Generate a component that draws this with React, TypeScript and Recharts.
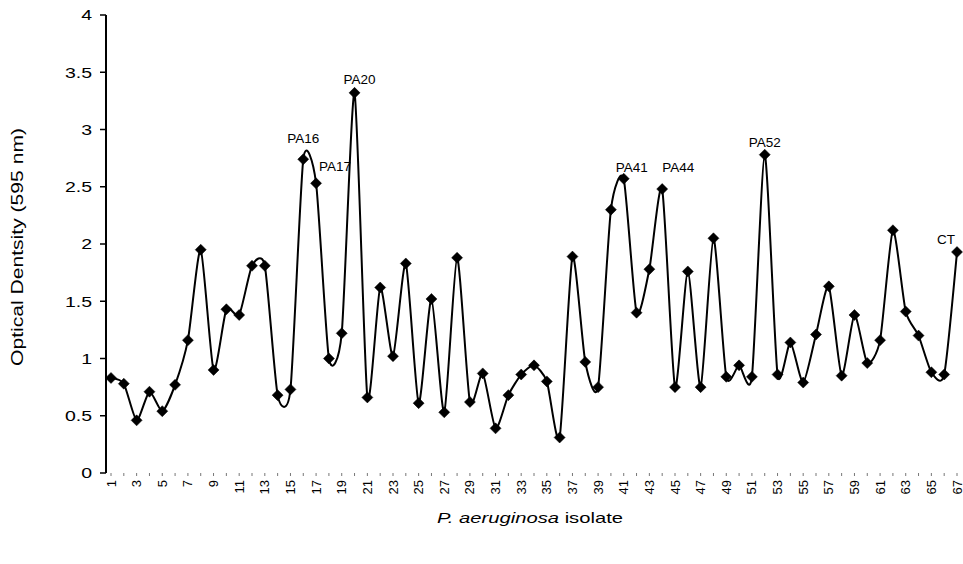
import React from 'react';
import { LineChart, Line, XAxis, YAxis, Label } from 'recharts';

const isolates = [
  1, 2, 3, 4, 5, 6, 7, 8, 9, 10, 11, 12, 13, 14, 15, 16, 17, 18, 19, 20,
  21, 22, 23, 24, 25, 26, 27, 28, 29, 30, 31, 32, 33, 34, 35, 36, 37, 38, 39, 40,
  41, 42, 43, 44, 45, 46, 47, 48, 49, 50, 51, 52, 53, 54, 55, 56, 57, 58, 59, 60,
  61, 62, 63, 64, 65, 66, 67,
];

const opticalDensity = [
  0.83, 0.78, 0.46, 0.71, 0.54, 0.77, 1.16, 1.95, 0.9, 1.43,
  1.38, 1.81, 1.81, 0.68, 0.73, 2.74, 2.53, 1.0, 1.22, 3.32,
  0.66, 1.62, 1.02, 1.83, 0.61, 1.52, 0.53, 1.88, 0.62, 0.87,
  0.39, 0.68, 0.86, 0.94, 0.8, 0.31, 1.89, 0.97, 0.75, 2.3,
  2.57, 1.4, 1.78, 2.48, 0.75, 1.76, 0.75, 2.05, 0.84, 0.94,
  0.84, 2.78, 0.86, 1.14, 0.79, 1.21, 1.63, 0.85, 1.38, 0.96,
  1.16, 2.12, 1.41, 1.2, 0.88, 0.86, 1.93,
];

const labeledIsolates = [16, 17, 20, 41, 44, 52, 67];
const labelTexts = ['PA16', 'PA17', 'PA20', 'PA41', 'PA44', 'PA52', 'CT'];

const xTickLabels = [
  1, 3, 5, 7, 9, 11, 13, 15, 17, 19, 21, 23, 25, 27, 29, 31, 33, 35, 37, 39,
  41, 43, 45, 47, 49, 51, 53, 55, 57, 59, 61, 63, 65, 67,
];

const yTicks = [0, 0.5, 1, 1.5, 2, 2.5, 3, 3.5, 4];

const data = isolates.map((iso, i) => {
  const li = labeledIsolates.indexOf(iso);
  return { isolate: iso, od: opticalDensity[i], tag: li >= 0 ? labelTexts[li] : null };
});

const FONT = '"Liberation Sans", Arial, Helvetica, sans-serif';

const tagStyle: Record<string, { dx: number; dy: number; anchor: 'start' | 'middle' | 'end' }> = {
  PA16: { dx: 0, dy: -16, anchor: 'middle' },
  PA17: { dx: 3, dy: -12, anchor: 'start' },
  PA20: { dx: 5, dy: -9, anchor: 'middle' },
  PA41: { dx: 8, dy: -7, anchor: 'middle' },
  PA44: { dx: 0, dy: -17, anchor: 'start' },
  PA52: { dx: 0, dy: -8, anchor: 'middle' },
  CT: { dx: -11, dy: -8, anchor: 'middle' },
};

// Cardinal spline curve factory (similar to Excel smoothed line)
function makeCardinal(tension: number) {
  const k = (1 - tension) / 6;
  return function (context: any) {
    let x0 = NaN, x1 = NaN, x2 = NaN, y0 = NaN, y1 = NaN, y2 = NaN;
    let pt = 0;
    let line: number = NaN;
    const seg = (x: number, y: number) =>
      context.bezierCurveTo(
        x1 + k * (x2 - x0),
        y1 + k * (y2 - y0),
        x2 + k * (x1 - x),
        y2 + k * (y1 - y),
        x2,
        y2
      );
    return {
      areaStart() { line = 0; },
      areaEnd() { line = NaN; },
      lineStart() { x0 = x1 = x2 = y0 = y1 = y2 = NaN; pt = 0; },
      lineEnd() {
        if (pt === 2) context.lineTo(x2, y2);
        else if (pt === 3) seg(x1, y1);
        if (line || (line !== 0 && pt === 1)) context.closePath();
        line = 1 - line;
      },
      point(x: number, y: number) {
        x = +x; y = +y;
        switch (pt) {
          case 0:
            pt = 1;
            if (line) context.lineTo(x, y); else context.moveTo(x, y);
            break;
          case 1:
            pt = 2; x1 = x; y1 = y;
            break;
          case 2:
            pt = 3; seg(x, y);
            break;
          default:
            seg(x, y);
        }
        x0 = x1; x1 = x2; x2 = x;
        y0 = y1; y1 = y2; y2 = y;
      },
    };
  };
}

const cardinal = makeCardinal(0.35);

const renderDot = (props: any) => {
  const { cx, cy, payload, index } = props;
  if (cx == null || cy == null) return <g key={`d${index}`} />;
  const s = 5.5;
  const tag = payload && payload.tag;
  const st = tag ? tagStyle[tag] : null;
  return (
    <g key={`d${index}`}>
      <polygon
        points={`${cx},${cy - s} ${cx + s},${cy} ${cx},${cy + s} ${cx - s},${cy}`}
        fill="#000"
        stroke="#000"
        strokeWidth={0.5}
      />
      {tag && st ? (
        <text
          x={cx + st.dx}
          y={cy + st.dy}
          textAnchor={st.anchor}
          fontSize={13.5}
          fontFamily={FONT}
          fill="#000"
        >
          {tag}
        </text>
      ) : null}
    </g>
  );
};

const XTick = (props: any) => {
  const { x, y, payload } = props;
  const v = payload.value;
  if (!xTickLabels.includes(v)) return <g />;
  return (
    <text
      transform={`translate(${x + 4.5},${y + 2}) rotate(-90)`}
      textAnchor="end"
      fontSize={13}
      fontFamily={FONT}
      fill="#000"
    >
      {v}
    </text>
  );
};

const YTick = (props: any) => {
  const { x, y, payload } = props;
  return (
    <text
      transform={`translate(${x},${y}) scale(1.3,1)`}
      textAnchor="end"
      dy="0.35em"
      fontSize={15}
      fontFamily={FONT}
      fill="#000"
    >
      {payload.value}
    </text>
  );
};

export default function App() {
  return (
    <div style={{ position: 'absolute', left: 0, top: 0, background: '#fff' }}>
      <LineChart
        width={963}
        height={564}
        data={data}
        margin={{ top: 15, right: 0, bottom: 61, left: 0 }}
      >
        <XAxis
          dataKey="isolate"
          type="category"
          interval={0}
          padding={{ left: 5, right: 6 }}
          axisLine={false}
          tickLine={{ stroke: '#777', strokeWidth: 1 }}
          tickSize={3}
          tickMargin={2}
          height={30}
          tick={<XTick />}
        >
          <Label
            content={() => (
              <text
                x={530}
                y={523}
                textAnchor="middle"
                fontSize={15}
                fontFamily={FONT}
                fill="#000"
                textLength={186}
                lengthAdjust="spacingAndGlyphs"
              >
                <tspan fontStyle="italic">P. aeruginosa</tspan>
                <tspan> isolate</tspan>
              </text>
            )}
          />
        </XAxis>
        <YAxis
          type="number"
          domain={[0, 4]}
          ticks={yTicks}
          interval={0}
          width={106}
          axisLine={{ stroke: '#000', strokeWidth: 2 }}
          tickLine={{ stroke: '#000', strokeWidth: 1.5 }}
          tickSize={6}
          tickMargin={8}
          tick={<YTick />}
        >
          <Label
            content={() => (
              <text
                transform="translate(23,247) rotate(-90)"
                textAnchor="middle"
                fontSize={17}
                fontFamily={FONT}
                fill="#000"
                textLength={238}
                lengthAdjust="spacingAndGlyphs"
              >
                Optical Dentsity (595 nm)
              </text>
            )}
          />
        </YAxis>
        <Line
          dataKey="od"
          type={cardinal as any}
          stroke="#000"
          strokeWidth={2}
          dot={renderDot}
          activeDot={false}
          isAnimationActive={false}
        />
      </LineChart>
    </div>
  );
}
